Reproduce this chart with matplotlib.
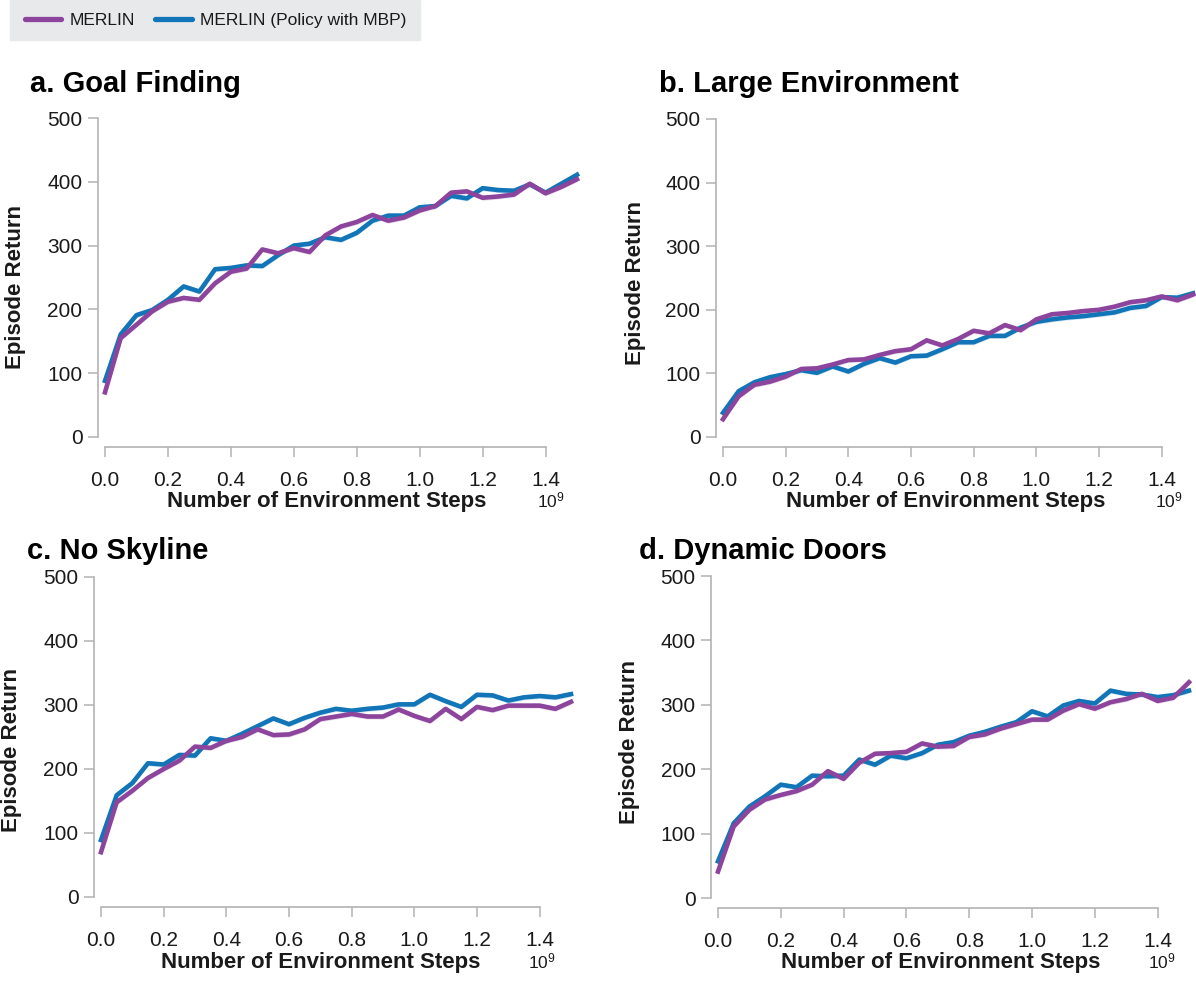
import numpy as np
import matplotlib
matplotlib.use('Agg')
import matplotlib.pyplot as plt
from matplotlib.lines import Line2D
from matplotlib.patches import Rectangle
from matplotlib.ticker import FormatStrFormatter

plt.rcParams['font.family'] = ['Liberation Sans', 'DejaVu Sans']

W, H = 1196, 982

# environment steps (in units of 1e9), one point every 0.05
steps = np.round(np.arange(31) * 0.05, 2)

goal_merlin = [70, 155, 176, 197, 212, 218, 215, 241, 259, 264, 294, 288, 296, 290, 316, 330,
               337, 348, 339, 344, 355, 362, 383, 385, 375, 377, 380, 397, 382, 392, 404]
goal_mbp = [88, 161, 191, 199, 215, 236, 228, 263, 265, 269, 268, 285, 300, 303, 313, 309,
            320, 339, 347, 347, 360, 362, 378, 374, 390, 387, 386, 396, 383, 397, 411]

large_merlin = [28, 64, 82, 87, 95, 107, 108, 114, 121, 122, 129, 135, 138, 152, 144, 154,
                167, 163, 176, 168, 185, 193, 195, 198, 200, 205, 212, 215, 221, 215, 224]
large_mbp = [38, 72, 86, 94, 99, 105, 101, 111, 103, 115, 124, 117, 127, 128, 138, 149,
             149, 159, 159, 172, 181, 185, 188, 190, 193, 196, 203, 206, 220, 219, 226]

skyline_merlin = [70, 148, 166, 186, 200, 213, 235, 233, 244, 250, 262, 253, 254, 262, 278, 282,
                  286, 282, 282, 293, 283, 275, 294, 278, 297, 292, 299, 299, 299, 294, 305]
skyline_mbp = [89, 159, 178, 209, 207, 222, 221, 248, 244, 255, 267, 279, 270, 280, 288, 294,
               291, 294, 296, 301, 301, 316, 306, 297, 316, 315, 307, 312, 314, 312, 317]

doors_merlin = [41, 111, 137, 153, 160, 166, 176, 197, 185, 210, 224, 225, 227, 240, 235, 236,
                250, 254, 263, 270, 277, 277, 291, 301, 294, 304, 309, 317, 306, 311, 335]
doors_mbp = [57, 116, 142, 158, 176, 172, 190, 189, 190, 215, 207, 221, 217, 225, 238, 242,
             252, 258, 266, 273, 290, 282, 299, 306, 302, 322, 317, 316, 312, 315, 322]

titles = ['a. Goal Finding', 'b. Large Environment', 'c. No Skyline', 'd. Dynamic Doors']
x_ticks = [0.0, 0.2, 0.4, 0.6, 0.8, 1.0, 1.2, 1.4]
y_ticks = [0, 100, 200, 300, 400, 500]

PURPLE = '#8c449c'
BLUE = '#1175b8'
GREY = '#b3b3b3'
TEXT = '#1a1a1a'
BAND = 4

# pixel layout of each panel:
# plot box (x at 0, x at 1.5, y at 0, y at 500), title, y label, x label, exponent
panels = [
    dict(box=(105, 577, 437, 118), title=(30, 92), ylab=(16, 287), xlab=(327, 507), exp=(537, 507),
         data=(goal_merlin, goal_mbp)),
    dict(box=(723, 1193, 437, 119), title=(659, 92), ylab=(636, 283), xlab=(946, 507), exp=(1155, 507),
         data=(large_merlin, large_mbp)),
    dict(box=(101, 571, 897, 577), title=(27, 559), ylab=(12, 750), xlab=(321, 968), exp=(528, 968),
         data=(skyline_merlin, skyline_mbp)),
    dict(box=(718, 1189, 898, 576), title=(639, 559), ylab=(630, 742), xlab=(941, 968), exp=(1148, 968),
         data=(doors_merlin, doors_mbp)),
]


def fx(px):
    return px / W


def fy(py):
    return 1 - py / H


fig = plt.figure(figsize=(W / 100, H / 100), dpi=100)

for title, p in zip(titles, panels):
    x0, x1, y0, y1 = p['box']
    ax = fig.add_axes([fx(x0), fy(y0), fx(x1) - fx(x0), fy(y1) - fy(y0)])
    merlin, mbp = p['data']

    # MBP first so the MERLIN curve sits on top
    for vals, col in [(mbp, BLUE), (merlin, PURPLE)]:
        vals = np.array(vals, dtype=float)
        ax.fill_between(steps, vals - BAND, vals + BAND, color=col, alpha=0.18, lw=0, clip_on=False)
        ax.plot(steps, vals, color=col, lw=3.3, solid_joinstyle='round', clip_on=False)

    ax.set_xlim(0, 1.5)
    ax.set_ylim(0, 500)
    ax.set_xticks(x_ticks)
    ax.set_yticks(y_ticks)
    ax.xaxis.set_major_formatter(FormatStrFormatter('%.1f'))

    for side in ['top', 'right']:
        ax.spines[side].set_visible(False)
    ax.spines['left'].set_position(('outward', 5))
    ax.spines['bottom'].set_position(('outward', 7))
    ax.spines['left'].set_bounds(0, 500)
    ax.spines['bottom'].set_bounds(0, 1.4)
    for side in ['left', 'bottom']:
        ax.spines[side].set_color(GREY)
        ax.spines[side].set_linewidth(1.2)
    ax.tick_params(axis='both', colors=GREY, width=1.1, length=7.2, labelsize=15, labelcolor=TEXT)
    ax.tick_params(axis='y', pad=4)
    ax.tick_params(axis='x', pad=10)
    ax.patch.set_visible(False)

    fig.text(fx(p['title'][0]), fy(p['title'][1]), title, fontsize=21, fontweight='bold',
             color='black', ha='left', va='baseline')
    fig.text(fx(p['ylab'][0]), fy(p['ylab'][1]), 'Episode Return', fontsize=16, fontweight='bold',
             color=TEXT, rotation=90, ha='center', va='center')
    fig.text(fx(p['xlab'][0]), fy(p['xlab'][1]), 'Number of Environment Steps', fontsize=16,
             fontweight='bold', color=TEXT, ha='center', va='baseline')
    fig.text(fx(p['exp'][0]), fy(p['exp'][1]), r'$\mathregular{10^9}$', fontsize=12.5,
             color=TEXT, ha='left', va='baseline')

# legend strip across the top
fig.patches.append(Rectangle((fx(10), fy(40)), fx(420) - fx(10), fy(0) - fy(40),
                             transform=fig.transFigure, color='#e8e9eb', zorder=0))
handles = [Line2D([], [], color=PURPLE, lw=3.8, solid_capstyle='round'),
           Line2D([], [], color=BLUE, lw=3.8, solid_capstyle='round')]
fig.legend(handles, ['MERLIN', 'MERLIN (Policy with MBP)'], loc='center left',
           bbox_to_anchor=(fx(25), fy(20)), ncol=2, frameon=False, fontsize=12.5,
           borderpad=0, borderaxespad=0, handlelength=2.1, handletextpad=0.45,
           columnspacing=1.2, labelcolor=TEXT)

fig.savefig('out.png', dpi=100)
